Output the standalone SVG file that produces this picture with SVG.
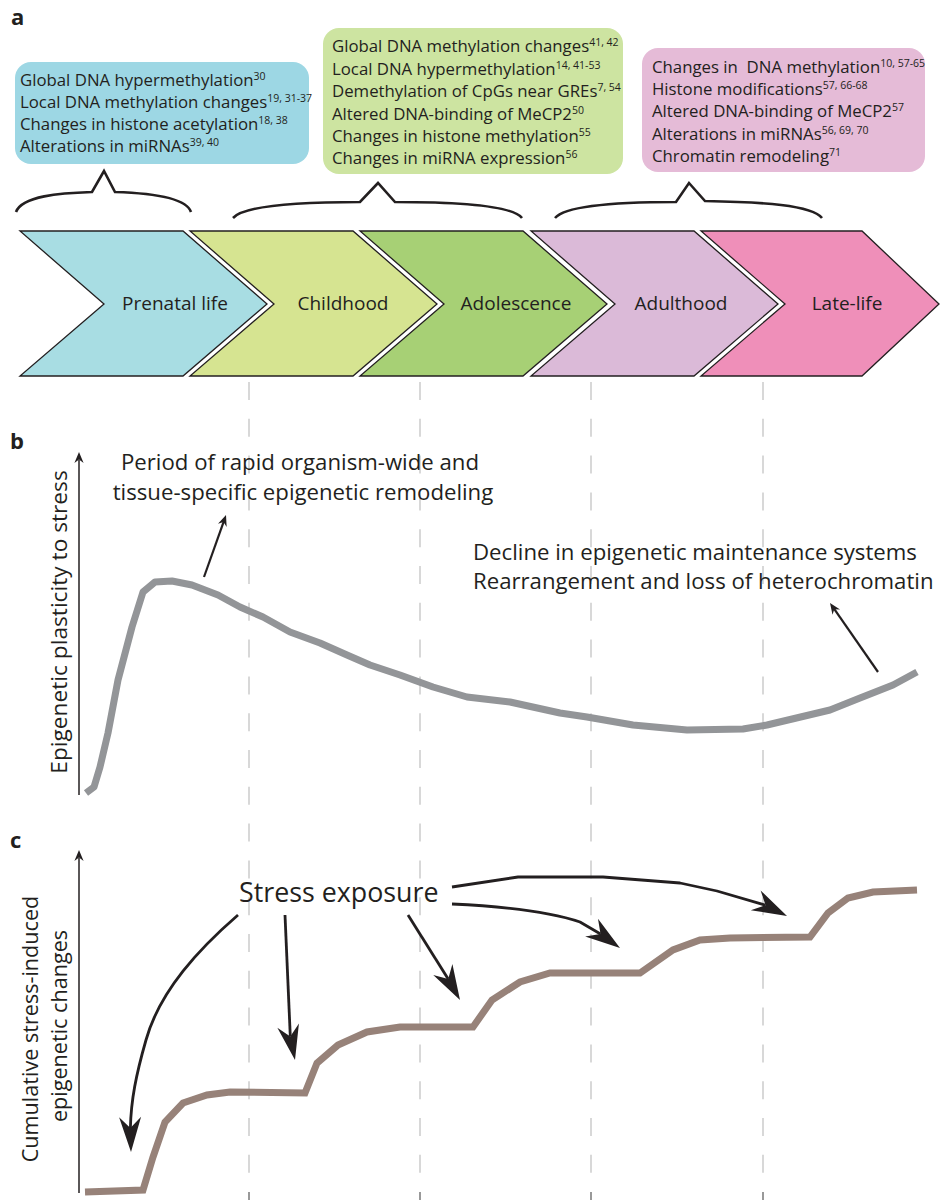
<svg xmlns="http://www.w3.org/2000/svg" xmlns:xlink="http://www.w3.org/1999/xlink" width="940" height="1200" viewBox="0 0 940 1200">
<style>
text{font-family:"Open Sans","Noto Sans","Liberation Sans",sans-serif;fill:#231f20}
.panel{font-weight:bold;font-size:22px}
.bt{font-size:16.8px}
.sup{font-size:10.5px}
.chev{stroke:#231f20;stroke-width:1.3;stroke-linejoin:miter}
.cl{font-size:19px;text-anchor:middle}
.lbl{font-size:22.2px}
.ylbl{font-size:21.6px}
.brace{fill:none;stroke:#231f20;stroke-width:2.6;stroke-linejoin:miter}
.dash{stroke:#b8b8b8;stroke-width:1.1;stroke-dasharray:18 18.8}
.tick{stroke:#555;stroke-width:1.2}
.axis{stroke:#231f20;stroke-width:1.5;fill:none}
.thin{stroke:#231f20;stroke-width:2.2;fill:none}
.thick{stroke:#231f20;stroke-width:2.8;fill:none;stroke-linejoin:round;stroke-linecap:butt}
</style>
<defs>
<path id="ahs" d="M0,0 L-11,-4.6 L-7.5,0 L-11,4.6 Z" fill="#231f20"/>
<path id="ahb" d="M0,0 L-35,-11 L-24,0 L-35,11 Z" fill="#231f20"/>
</defs>
<rect width="940" height="1200" fill="#fff"/>

<g id="panel-labels">
<text class="panel" x="11" y="25">a</text>
<text class="panel" x="10" y="449">b</text>
<text class="panel" x="10" y="848">c</text>
</g>

<g id="gridlines">
<line class="dash" x1="249" y1="382" x2="249" y2="1190"/>
<line class="dash" x1="420" y1="382" x2="420" y2="1190"/>
<line class="dash" x1="591" y1="382" x2="591" y2="1190"/>
<line class="dash" x1="763" y1="382" x2="763" y2="1190"/>
<line class="tick" x1="249" y1="1192" x2="249" y2="1200"/>
<line class="tick" x1="420" y1="1192" x2="420" y2="1200"/>
<line class="tick" x1="591" y1="1192" x2="591" y2="1200"/>
<line class="tick" x1="763" y1="1192" x2="763" y2="1200"/>
</g>

<g id="box-prenatal">
<rect x="15" y="62" width="294" height="102" rx="16" fill="#9dd7e4"/>
<text class="bt" x="20" y="86">Global DNA hypermethylation<tspan class="sup" dy="-6">30</tspan></text>
<text class="bt" x="20" y="108">Local DNA methylation changes<tspan class="sup" dy="-6">19, 31-37</tspan></text>
<text class="bt" x="20" y="130">Changes in histone acetylation<tspan class="sup" dy="-6">18, 38</tspan></text>
<text class="bt" x="20" y="152">Alterations in miRNAs<tspan class="sup" dy="-6">39, 40</tspan></text>
</g>

<g id="box-childhood">
<rect x="323" y="28" width="300" height="146" rx="16" fill="#cde4a1"/>
<text class="bt" x="332" y="52">Global DNA methylation changes<tspan class="sup" dy="-6">41, 42</tspan></text>
<text class="bt" x="332" y="75">Local DNA hypermethylation<tspan class="sup" dy="-6">14, 41-53</tspan></text>
<text class="bt" x="332" y="97">Demethylation of CpGs near GREs<tspan class="sup" dy="-6">7, 54</tspan></text>
<text class="bt" x="332" y="120">Altered DNA-binding of MeCP2<tspan class="sup" dy="-6">50</tspan></text>
<text class="bt" x="332" y="142">Changes in histone methylation<tspan class="sup" dy="-6">55</tspan></text>
<text class="bt" x="332" y="164">Changes in miRNA expression<tspan class="sup" dy="-6">56</tspan></text>
</g>

<g id="box-adult">
<rect x="642" y="48" width="283" height="124" rx="16" fill="#e5bbd7"/>
<text class="bt" x="652" y="73" xml:space="preserve">Changes in  DNA methylation<tspan class="sup" dy="-6">10, 57-65</tspan></text>
<text class="bt" x="652" y="95">Histone modifications<tspan class="sup" dy="-6">57, 66-68</tspan></text>
<text class="bt" x="652" y="117">Altered DNA-binding of MeCP2<tspan class="sup" dy="-6">57</tspan></text>
<text class="bt" x="652" y="140">Alterations in miRNAs<tspan class="sup" dy="-6">56, 69, 70</tspan></text>
<text class="bt" x="652" y="162">Chromatin remodeling<tspan class="sup" dy="-6">71</tspan></text>
</g>

<g id="braces">
<path class="brace" d="M16,212 C22,196 60,193 92,192 L104,171 L115,192 C148,193 186,197 191,212"/>
<path class="brace" d="M233,218 C245,205 300,202 360,202 L378,183 L395,202 C455,202 512,205 522,218"/>
<path class="brace" d="M555,218 C566,205 620,202 676,202 L689,183 L705,201 C762,202 812,205 822,218"/>
</g>

<g id="stage-prenatal">
<polygon class="chev" points="20,231 183,231 267,304 183,376 20,376 104,304" fill="#a8dde3"/>
<text class="cl" x="175" y="310">Prenatal life</text>
</g>
<g id="stage-childhood">
<polygon class="chev" points="190,231 353,231 437,304 353,376 190,376 274,304" fill="#d6e491"/>
<text class="cl" x="343" y="310">Childhood</text>
</g>
<g id="stage-adolescence">
<polygon class="chev" points="360,231 523,231 607,304 523,376 360,376 444,304" fill="#a7d075"/>
<text class="cl" x="516" y="310">Adolescence</text>
</g>
<g id="stage-adulthood">
<polygon class="chev" points="531,231 694,231 778,304 694,376 531,376 615,304" fill="#dbbad8"/>
<text class="cl" x="681" y="310">Adulthood</text>
</g>
<g id="stage-latelife">
<polygon class="chev" points="701,231 862,231 939,304 862,376 701,376 785,304" fill="#ef8fb9"/>
<text class="cl" x="847" y="310">Late-life</text>
</g>

<g id="plot-b">
<line class="axis" x1="79" y1="795" x2="79" y2="460"/>
<use xlink:href="#ahs" href="#ahs" transform="translate(79,452) rotate(-90)"/>
<text text-anchor="middle" transform="translate(67,622) rotate(-90)" style="font-size:22.7px">Epigenetic plasticity to stress</text>
<path d="M86,793 L94,787 L100,767 L108,733 L118,680 L132,627 L143,592 L155,582 L172,581 L192,585 L218,595 L240,607 L263,617 L290,632 L320,643 L347,655 L370,665 L400,675 L433,687 L467,697 L510,702 L560,713 L587,717 L633,725 L687,730 L743,729 L767,725 L830,710 L860,698 L893,685 L917,672" fill="none" stroke="#939598" stroke-width="7" stroke-linejoin="round"/>
<text class="lbl" text-anchor="middle" x="300" y="470">Period of rapid organism-wide and</text>
<text class="lbl" text-anchor="middle" x="303" y="500">tissue-specific epigenetic remodeling</text>
<line class="thin" x1="204" y1="577" x2="223.7" y2="521.6"/>
<use xlink:href="#ahs" href="#ahs" transform="translate(226,515) rotate(-70.5)"/>
<text class="lbl" x="473" y="560">Decline in epigenetic maintenance systems</text>
<text class="lbl" x="473" y="589">Rearrangement and loss of heterochromatin</text>
<line class="thin" x1="878" y1="672" x2="834" y2="608.7"/>
<use xlink:href="#ahs" href="#ahs" transform="translate(830,603) rotate(-124.8)"/>
</g>

<g id="plot-c">
<line class="axis" x1="79" y1="1193" x2="79" y2="858"/>
<use xlink:href="#ahs" href="#ahs" transform="translate(79,850) rotate(-90)"/>
<text class="ylbl" text-anchor="middle" transform="translate(38,1029) rotate(-90)">Cumulative stress-induced</text>
<text class="ylbl" text-anchor="middle" transform="translate(67,1026) rotate(-90)">epigenetic changes</text>
<path d="M85,1192 L143,1190 L153,1157 L165,1122 L183,1103 L207,1095 L230,1092 L305,1093 L317,1063 L338,1045 L367,1032 L400,1027 L473,1027 L492,1000 L520,982 L550,973 L640,973 L673,950 L700,940 L730,938 L810,937 L828,913 L848,898 L873,892 L917,890" fill="none" stroke="#978279" stroke-width="7" stroke-linejoin="miter"/>
<text x="239" y="902" style="font-size:26.8px">Stress exposure</text>
</g>

<g id="connectors">
<path class="thick" d="M238,915 C200,948 160,990 146,1040 C136,1075 131,1100 130.4,1128"/>
<use xlink:href="#ahb" href="#ahb" transform="translate(131,1152) rotate(88.5)"/>
<path class="thick" d="M285,915 L290.3,1036.5"/>
<use xlink:href="#ahb" href="#ahb" transform="translate(295,1060) rotate(78.7)"/>
<path class="thick" d="M408,915 L448.2,979.1"/>
<use xlink:href="#ahb" href="#ahb" transform="translate(460,1000) rotate(60.6)"/>
<path class="thick" d="M452,904 C495,906 545,910 580,922 L600.5,934"/>
<use xlink:href="#ahb" href="#ahb" transform="translate(620,948) rotate(35.7)"/>
<path class="thick" d="M452,887 L518,877 L603,877 L680,883 L717,891 L765.5,905.2"/>
<use xlink:href="#ahb" href="#ahb" transform="translate(787,916) rotate(26.6)"/>
</g>
</svg>
